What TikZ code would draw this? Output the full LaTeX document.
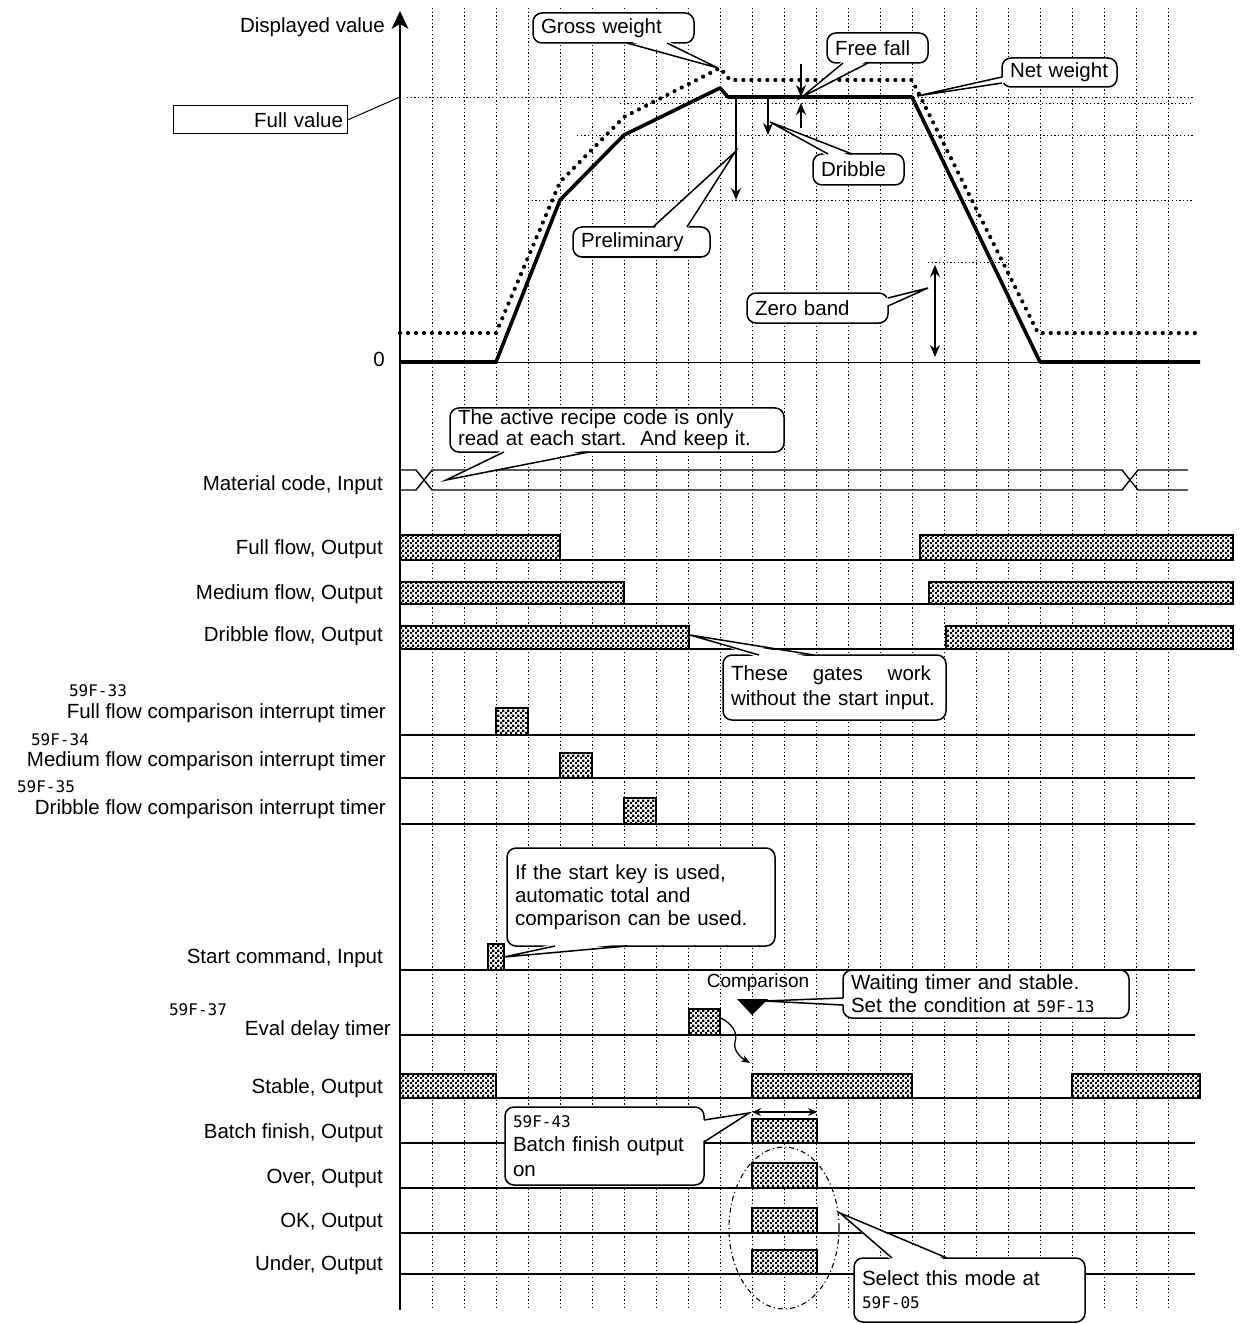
\documentclass[tikz,border=0pt]{standalone}
\usepackage{fontspec}
\setmainfont{Liberation Sans}
\newfontfamily\segfont{DejaVu Sans Mono}
\usetikzlibrary{arrows.meta, calc, patterns}

\newcommand\fs{\fontsize{20.5}{23}\selectfont}
\newcommand\segcode[1]{{\segfont\fontsize{16}{19}\selectfont #1}}

\pgfdeclarepatternformonly{finechecker}{\pgfpointorigin}{\pgfqpoint{5pt}{5pt}}{\pgfqpoint{5pt}{5pt}}{%
  \pgfpathrectangle{\pgfpointorigin}{\pgfqpoint{2.5pt}{2.5pt}}%
  \pgfpathrectangle{\pgfqpoint{2.5pt}{2.5pt}}{\pgfqpoint{2.5pt}{2.5pt}}%
  \pgfusepath{fill}}

% bubble tail: base a, tip, base b, inward shift
\newcommand\tail[4]{%
  \fill[white] ($#1+#4$) -- #2 -- ($#3+#4$) -- cycle;
  \draw[tailline] #1 -- #2 -- #3;}

\begin{document}
\begin{tikzpicture}[
  x=1pt, y=-1pt,
  font=\fs,
  gridline/.style={line width=0.9pt, dash pattern=on 1.3pt off 2.4pt},
  refline/.style={line width=0.9pt, dash pattern=on 1.3pt off 2.4pt},
  netline/.style={line width=3.6pt, line join=round},
  grossline/.style={line width=4.2pt, line cap=round, dash pattern=on 0pt off 8pt},
  sig/.style={line width=1.4pt},
  pulse/.style={draw, line width=1.6pt, preaction={fill=white}, pattern=finechecker},
  arr/.style={line width=1.3pt, -{Stealth[length=12pt, width=10pt]}},
  bubble/.style={draw, fill=white, line width=1.5pt, rounded corners=9pt, align=left, inner xsep=8pt, inner ysep=2pt, font=\fs},
  tailline/.style={line width=1.5pt, line join=miter},
  lab/.style={anchor=east, inner sep=0pt, font=\fs},
  seg/.style={inner sep=0pt, font=\segfont\fontsize{16}{19}\selectfont}
]
\useasboundingbox (0,0) rectangle (1240,1324);

% grid
\foreach \k in {1,...,24}
  \draw[gridline] ({400+32*\k},8) -- ({400+32*\k},1310);

% weight chart
\draw[refline] (407,97) -- (1193,97);
\draw[refline] (620,103) -- (1193,103);
\draw[refline] (577,135) -- (1193,135);
\draw[refline] (528,200) -- (1193,200);
\draw[refline] (928,262) -- (1007,262);
\draw[line width=1pt] (400,362) -- (1200,362);
\draw[grossline] (400,333) -- (496,333) -- (560,182) -- (624,117) -- (720,68) -- (730,80) -- (912,80) -- (1038,333) -- (1200,333);
\draw[netline] (400,362) -- (496,362) -- (560,200) -- (624,135) -- (720,88) -- (728,97) -- (912,97) -- (1040,362) -- (1200,362);

\draw[line width=1.3pt, -{Stealth[length=18pt, width=17pt, inset=5pt]}] (400,1310) -- (400,11);
\node[lab] (disp) at (385,27) {Displayed value};
\node[lab] (zero) at (385,359) {0};
\node[draw, line width=1pt, minimum width=174pt, minimum height=28pt, text width=166pt, align=right, inner xsep=4pt, inner ysep=0pt] (fullval) at (260,120) {Full value};
\coordinate (fullTip) at (400,97);
\draw[line width=1pt] (fullval.east) -- (fullTip);

\draw[arr] (736,97) -- (736,200);
\draw[arr] (768,97) -- (768,135);
\draw[arr] (801,64) -- (801,97);
\draw[arr] (801,128) -- (801,103);
\draw[line width=1.3pt, {Stealth[length=12pt, width=10pt]}-{Stealth[length=12pt, width=10pt]}] (935,265) -- (935,357);

% bubbles of the weight chart
\node[bubble, minimum width=161pt, minimum height=30pt, text width=145pt] (gross) at (613.5,28) {Gross weight};
\coordinate (grossTip) at (718,68);
\tail{(627,43)}{(grossTip)}{(667,43)}{(0,-2.5)}
\node[bubble, minimum width=101pt, minimum height=30pt, text width=85pt] (freefall) at (877.5,48) {Free fall};
\coordinate (fallTip) at (802,97);
\tail{(843,63)}{(fallTip)}{(868,63)}{(0,-2.5)}
\node[bubble, minimum width=115pt, minimum height=29pt, text width=99pt] (netw) at (1059.5,72.5) {Net weight};
\coordinate (netTip) at (917,96);
\tail{(1002,77)}{(netTip)}{(1002,83)}{(2.5,0)}
\node[bubble, minimum width=91pt, minimum height=31pt, text width=75pt] (dribble) at (858.5,169.5) {Dribble};
\coordinate (dribTip) at (770,122);
\tail{(828,154)}{(dribTip)}{(852,154)}{(0,2.5)}
\node[bubble, minimum width=137pt, minimum height=30pt, text width=121pt] (prelim) at (641.5,242) {Preliminary};
\coordinate (prelTip) at (735,152);
\tail{(653,227)}{(prelTip)}{(687,227)}{(0,2.5)}
\node[bubble, minimum width=141pt, minimum height=30pt, text width=125pt] (zeroband) at (817.5,308) {Zero band};
\coordinate (zbTip) at (928,288);
\tail{(888,298)}{(zbTip)}{(888,306)}{(-2.5,0)}

% timing rows
\node[lab] at (383,485) {Material code, Input};
\node[lab] at (383,549) {Full flow, Output};
\node[lab] at (383,594) {Medium flow, Output};
\node[lab] at (383,636) {Dribble flow, Output};
\node[lab] at (386,713) {Full flow comparison interrupt timer};
\node[lab] at (386,761) {Medium flow comparison interrupt timer};
\node[lab] at (386,809) {Dribble flow comparison interrupt timer};
\node[lab] at (383,958) {Start command, Input};
\node[lab] at (391,1030) {Eval delay timer};
\node[lab] at (383,1088) {Stable, Output};
\node[lab] at (383,1133) {Batch finish, Output};
\node[lab] at (383,1178) {Over, Output};
\node[lab] at (383,1222) {OK, Output};
\node[lab] at (383,1265) {Under, Output};
\node[seg] at (98,691) {59F-33};
\node[seg] at (60,740) {59F-34};
\node[seg] at (46,787) {59F-35};
\node[seg] at (198,1010) {59F-37};

\draw[sig] (400,470) -- (416,470) -- (432,490) -- (1122,490) -- (1138,470) -- (1188,470);
\draw[sig] (400,490) -- (416,490) -- (432,470) -- (1122,470) -- (1138,490) -- (1188,490);

\foreach \yb/\xe in {560/1233, 604/1233, 649/1233, 735/1195, 778/1195, 824/1195,
    970/1195, 1035/1195, 1098/1200, 1143/1195, 1188/1195, 1233/1195, 1274/1195}
  \draw[sig] (400,\yb) -- (\xe,\yb);

\foreach \xa/\xb/\ya/\yb in {400/560/535/560, 920/1233/535/560,
    400/624/582/604, 929/1233/582/604, 400/689/626/649, 946/1233/626/649,
    496/528/708/735, 560/592/753/778, 624/656/798/824, 488/504/944/970,
    689/720/1009/1035, 400/496/1074/1098, 752/912/1074/1098, 1072/1200/1074/1098,
    752/817/1119/1143, 752/817/1163/1188, 752/817/1208/1233, 752/817/1250/1274}
  \draw[pulse] (\xa,\ya) rectangle (\xb,\yb);

\draw[line width=1.3pt, {Stealth[length=9pt, width=8pt]}-{Stealth[length=9pt, width=8pt]}] (752,1112) -- (817,1112);
\draw[line width=1.1pt, dash pattern=on 5pt off 3pt on 1.2pt off 3pt] (784,1228) ellipse [x radius=55pt, y radius=81pt];

\node[inner sep=0pt, font=\fontsize{19}{21}\selectfont] (cmp) at (758,983) {Comparison};
\fill (737,999) -- (768,999) -- (752,1015) -- cycle;
\draw[line width=1.3pt, -{Stealth[length=9pt, width=7pt]}] (721,1018) .. controls (732,1024) and (738,1032) .. (735,1042) .. controls (733,1050) and (740,1057) .. (750,1063);

% bubbles of the timing rows
\node[bubble, minimum width=334pt, minimum height=44pt, text width=318pt, font=\fontsize{20.5}{21}\selectfont] (recipe) at (617,430) {The active recipe code is only\\read at each start.\ \ And keep it.};
\coordinate (recipeTip) at (446,480);
\tail{(504,452)}{(recipeTip)}{(589,452)}{(0,-2.5)}
\node[bubble, minimum width=223pt, minimum height=65pt, text width=207pt, font=\fontsize{20.5}{25}\selectfont] (gates) at (834.5,687.5) {\makebox[200pt][s]{These\hfill gates\hfill work}\\without the start input.};
\coordinate (gatesTip) at (690,635);
\tail{(759,655)}{(gatesTip)}{(814,655)}{(0,2.5)}
\node[bubble, minimum width=268pt, minimum height=98pt, text width=252pt] (startkey) at (641,897) {If the start key is used,\\automatic total and\\comparison can be used.};
\coordinate (startTip) at (504,957);
\tail{(555,946)}{(startTip)}{(627,946)}{(0,-2.5)}
\node[bubble, minimum width=286pt, minimum height=48pt, text width=270pt] (waiting) at (986,994) {Waiting timer and stable.\\Set the condition at \segcode{59F-13}};
\coordinate (waitTip) at (764,1001);
\tail{(843,998)}{(waitTip)}{(843,1005)}{(2.5,0)}
\node[bubble, minimum width=199pt, minimum height=78pt, text width=183pt, font=\fontsize{20.5}{24.5}\selectfont] (batchfin) at (604.5,1146) {\segcode{59F-43}\\Batch finish output\\on};
\coordinate (batchTip) at (749,1113);
\tail{(704,1120)}{(batchTip)}{(704,1142)}{(-2.5,0)}
\node[bubble, minimum width=231pt, minimum height=64pt, text width=215pt] (selmode) at (969.5,1290) {Select this mode at\\\segcode{59F-05}};
\coordinate (modeTip) at (840,1213);
\tail{(892,1258)}{(modeTip)}{(947,1258)}{(0,2.5)}
\end{tikzpicture}
\end{document}
